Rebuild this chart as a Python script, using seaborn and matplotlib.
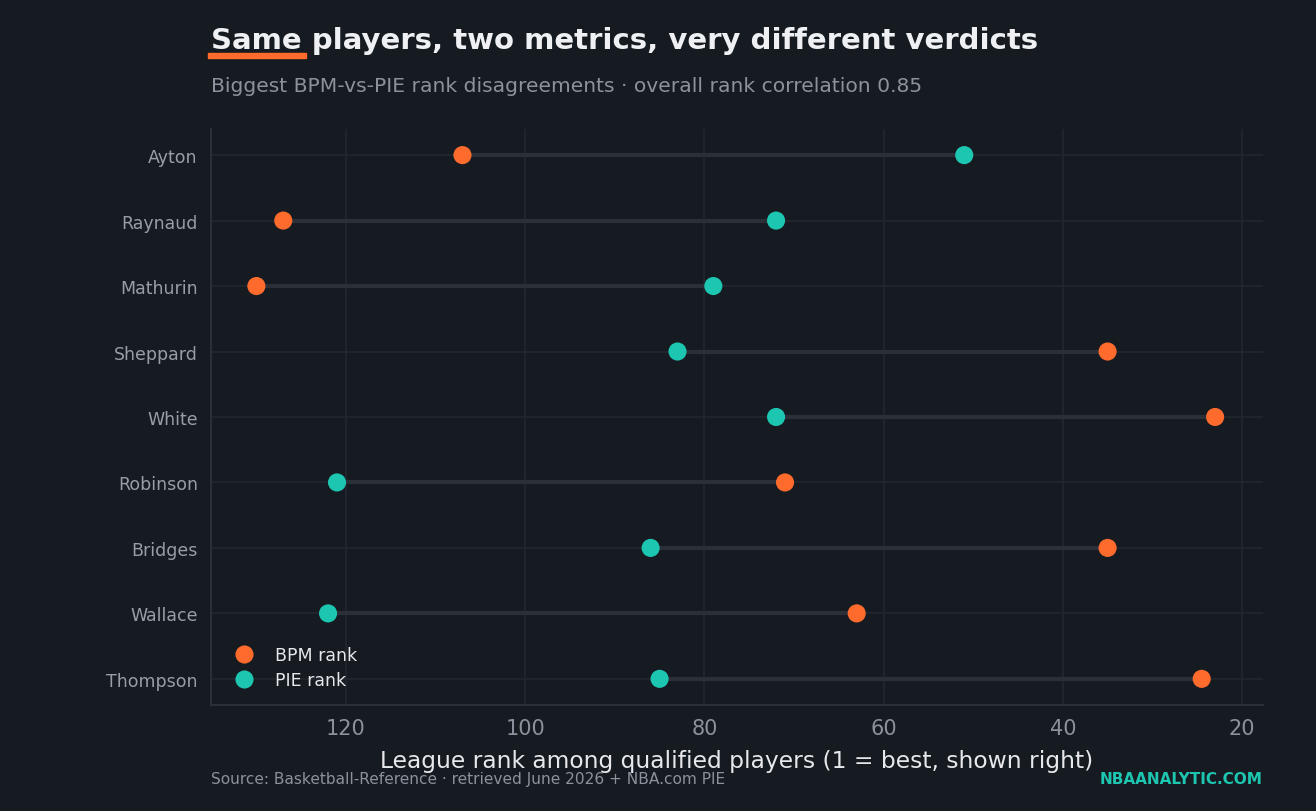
import pandas as pd
import seaborn as sns
import matplotlib.pyplot as plt
from matplotlib.patches import Rectangle

players = ["Ayton", "Raynaud", "Mathurin", "Sheppard", "White",
           "Robinson", "Bridges", "Wallace", "Thompson"]
bpm_rank = [107, 127, 130, 35, 23, 71, 35, 63, 24.5]
pie_rank = [51, 72, 79, 83, 72, 121, 86, 122, 85]

BG = "#161b22"
ORANGE = "#ff6b2c"
TEAL = "#1cc6b0"

df = pd.DataFrame({
    "player": players * 2,
    "rank": bpm_rank + pie_rank,
    "metric": ["BPM rank"] * len(players) + ["PIE rank"] * len(players),
})

sns.set_style("dark")
plt.rcParams["font.family"] = ["DejaVu Sans"]

fig = plt.figure(figsize=(13.16, 8.12), dpi=100, facecolor=BG)
ax = fig.add_axes([0.1603, 0.1305, 0.7994, 0.7095])
ax.set_facecolor(BG)

# connector lines
ax.hlines(y=players, xmin=bpm_rank, xmax=pie_rank, color="#2b2f37", linewidth=3, zorder=1)

sns.scatterplot(data=df, x="rank", y="player", hue="metric",
                palette={"BPM rank": ORANGE, "PIE rank": TEAL},
                s=170, edgecolor="none", zorder=3, ax=ax)

ax.set_xlim(135.07, 17.66)
ax.set_ylim(8.4, -0.4)
ax.set_xticks([120, 100, 80, 60, 40, 20])

ax.grid(True, color="#232830", linewidth=1.2)
ax.set_axisbelow(True)
for s in ["top", "right"]:
    ax.spines[s].set_visible(False)
for s in ["left", "bottom"]:
    ax.spines[s].set_visible(True)
    ax.spines[s].set_color("#2b3038")
    ax.spines[s].set_linewidth(1.5)

ax.tick_params(axis="x", colors="#3a3f47", labelcolor="#8b929b", labelsize=15, length=6, width=1.5)
ax.tick_params(axis="y", colors="#5a5f67", labelcolor="#979ea6", labelsize=12.5, length=6, width=1.5)

ax.set_ylabel("")
ax.set_xlabel("League rank among qualified players (1 = best, shown right)",
              fontsize=16.8, color="#e6e8eb", labelpad=8)

leg = ax.legend(loc="lower left", frameon=False, fontsize=12.5,
                handletextpad=0.8, labelspacing=0.45, borderaxespad=0.5,
                bbox_to_anchor=(0.0, 0.0))
for t in leg.get_texts():
    t.set_color("#e6e8eb")

fig.text(0.1603, 0.949, "Same players, two metrics, very different verdicts",
         fontsize=21, fontweight="bold", color="#eef0f3", va="center")
fig.patches.append(Rectangle((208 / 1316, 1 - 59 / 812), 98 / 1316, 5 / 812,
                             transform=fig.transFigure, color=ORANGE))
fig.text(0.1603, 0.894, "Biggest BPM-vs-PIE rank disagreements \u00b7 overall rank correlation 0.85",
         fontsize=14.6, color="#8b929b", va="center")
fig.text(0.1603, 0.040, "Source: Basketball-Reference \u00b7 retrieved June 2026 + NBA.com PIE",
         fontsize=11.1, color="#8b929b", va="center")
fig.text(0.9597, 0.040, "NBAANALYTIC.COM", fontsize=11, fontweight="bold",
         color=TEAL, va="center", ha="right")

fig.savefig("out.png", dpi=100, facecolor=BG)
